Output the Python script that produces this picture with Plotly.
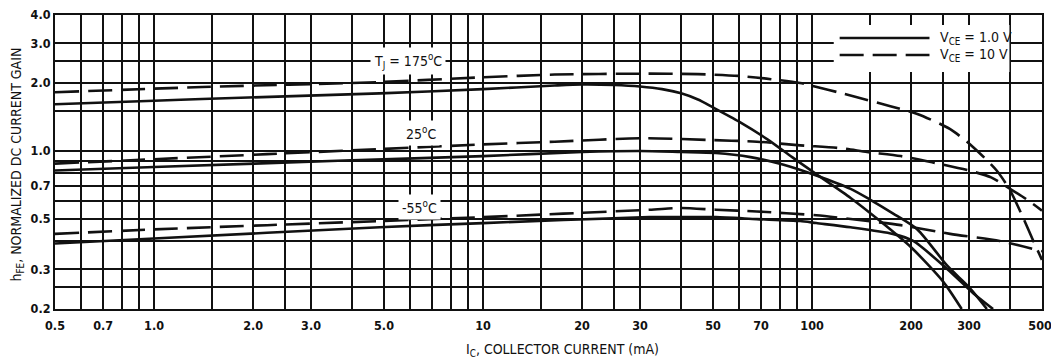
import numpy as np
import plotly.graph_objects as go

# Collector current (mA) and normalized DC current gain for each curve
ic_175_1v = [0.5, 1.0, 1.4, 4.85, 10, 16.5, 20, 25, 30, 35, 40, 45, 50, 60, 73, 87, 103, 131, 161, 200, 250, 285]
hfe_175_1v = [1.61, 1.67, 1.70, 1.80, 1.88, 1.95, 1.97, 1.96, 1.93, 1.88, 1.80, 1.69, 1.56, 1.35, 1.13, 0.94, 0.79, 0.62, 0.49, 0.375, 0.265, 0.20]

ic_175_10v = [0.5, 1.4, 4.85, 10, 16.5, 31, 45, 60, 75, 92, 137, 173, 209, 263, 309, 364, 400, 440, 467, 500]
hfe_175_10v = [1.82, 1.92, 2.02, 2.12, 2.18, 2.20, 2.19, 2.15, 2.08, 2.00, 1.73, 1.58, 1.46, 1.25, 1.04, 0.82, 0.67, 0.50, 0.41, 0.33]

ic_25_1v = [0.5, 1.0, 4.0, 10, 20, 30, 40, 51, 65, 82, 103, 131, 150, 176, 209, 258, 300, 340]
hfe_25_1v = [0.82, 0.85, 0.91, 0.95, 0.99, 1.00, 0.99, 0.98, 0.94, 0.87, 0.78, 0.68, 0.61, 0.53, 0.45, 0.31, 0.25, 0.20]

ic_25_10v = [0.5, 1.0, 4.85, 10, 16.5, 31, 48, 68, 92, 122, 147, 186, 233, 300, 350, 400, 450, 500]
hfe_25_10v = [0.88, 0.92, 1.02, 1.07, 1.10, 1.14, 1.12, 1.10, 1.06, 1.03, 0.99, 0.95, 0.89, 0.82, 0.765, 0.68, 0.61, 0.545]

ic_m55_1v = [0.5, 1.0, 4.85, 10, 32, 40, 51, 68, 92, 103, 131, 176, 203, 258, 309, 355]
hfe_m55_1v = [0.39, 0.41, 0.46, 0.48, 0.51, 0.51, 0.51, 0.50, 0.49, 0.48, 0.46, 0.43, 0.40, 0.30, 0.235, 0.20]

ic_m55_10v = [0.5, 1.0, 4.85, 10, 32, 40, 51, 68, 103, 131, 186, 263, 372, 500]
hfe_m55_10v = [0.43, 0.45, 0.49, 0.51, 0.55, 0.56, 0.55, 0.54, 0.52, 0.50, 0.47, 0.43, 0.40, 0.36]

# Axis ticks (labelled) and extra grid positions (unlabelled)
x_tick_vals = [0.5, 0.7, 1.0, 2.0, 3.0, 5.0, 10, 20, 30, 50, 70, 100, 200, 300, 500]
x_tick_text = ["0.5", "0.7", "1.0", "2.0", "3.0", "5.0", "10", "20", "30", "50", "70", "100", "200", "300", "500\u00a0"]
x_grid_vals = [0.6, 0.8, 0.9, 1.5, 2.5, 4, 6, 7, 8, 9, 15, 25, 40, 60, 80, 90, 150, 250, 400]

y_tick_vals = [0.2, 0.3, 0.5, 0.7, 1.0, 2.0, 3.0, 4.0]
y_tick_text = ["0.2", "0.3", "0.5", "0.7", "1.0", "2.0", "3.0", "4.0"]
y_grid_vals = [0.25, 0.4, 0.6, 0.8, 0.9, 1.5, 2.5]

FONT = "DejaVu Sans Condensed, Liberation Sans, Arial, sans-serif"
INK = "#111111"
DASH = "24px,9px"
EPS = 1e-6


def merged(ticks, labels, extra):
    vals = list(ticks) + list(extra)
    text = list(labels) + [""] * len(extra)
    order = np.argsort(vals)
    return [vals[i] for i in order], [text[i] for i in order]


xv, xt = merged(x_tick_vals, x_tick_text, x_grid_vals)
yv, yt = merged(y_tick_vals, y_tick_text, y_grid_vals)

fig = go.Figure()

curves = [
    (ic_175_10v, hfe_175_10v, DASH),
    (ic_175_1v, hfe_175_1v, "solid"),
    (ic_25_10v, hfe_25_10v, DASH),
    (ic_25_1v, hfe_25_1v, "solid"),
    (ic_m55_10v, hfe_m55_10v, DASH),
    (ic_m55_1v, hfe_m55_1v, "solid"),
]
for xs, ys, dash in curves:
    fig.add_trace(go.Scatter(
        x=xs, y=ys, mode="lines",
        line=dict(color=INK, width=2.6, dash=dash, shape="spline", smoothing=0.7),
        showlegend=False, hoverinfo="skip",
    ))

fig.update_xaxes(
    type="log", range=[np.log10(0.5) - EPS, np.log10(500) + EPS],
    tickmode="array", tickvals=xv, ticktext=xt,
    showgrid=True, gridcolor=INK, gridwidth=1.6,
    showline=True, linecolor=INK, linewidth=2, mirror=True,
    ticks="", zeroline=False, automargin=False, ticklabelstandoff=4,
    ticklabeloverflow="allow",
    tickfont=dict(family=FONT, size=12.5, color=INK, weight="bold"),
)
fig.update_yaxes(
    type="log", range=[np.log10(0.2) - EPS, np.log10(4.0) + EPS],
    tickmode="array", tickvals=yv, ticktext=yt,
    showgrid=True, gridcolor=INK, gridwidth=1.6,
    showline=True, linecolor=INK, linewidth=2, mirror=True,
    ticks="", zeroline=False, automargin=False,
    ticklabeloverflow="allow",
    tickfont=dict(family=FONT, size=12.5, color=INK, weight="bold"),
)

# Axis titles
fig.add_annotation(x=0.514, y=-0.14, xref="paper", yref="paper",
                   xanchor="center", yanchor="middle",
                   text="I<sub>C</sub>, COLLECTOR CURRENT (mA)", showarrow=False,
                   font=dict(family=FONT, size=14, color=INK))
fig.add_annotation(x=-0.039, y=0.49, xref="paper", yref="paper", textangle=-90,
                   xanchor="center", yanchor="middle",
                   text="h<sub>FE</sub>, NORMALIZED DC CURRENT GAIN", showarrow=False,
                   font=dict(family=FONT, size=14, color=INK))

# Temperature labels on white patches
labels = [
    ("T<sub>J</sub> = 175<sup>o</sup>C", 5.9, 2.5),
    ("25<sup>o</sup>C", 6.5, 1.2),
    ("-55<sup>o</sup>C", 6.4, 0.566),
]
for text, xval, yval in labels:
    fig.add_annotation(
        x=np.log10(xval), y=np.log10(yval), xref="x", yref="y",
        text=text, showarrow=False, bgcolor="white", borderpad=3,
        font=dict(family=FONT, size=14, color=INK),
    )

# Key for the two collector-emitter voltages
fig.add_shape(type="rect", xref="paper", yref="paper",
              x0=0.789, x1=0.967, y0=0.806, y1=0.966,
              fillcolor="white", line=dict(width=0), layer="above")
fig.add_shape(type="line", xref="paper", yref="paper",
              x0=0.795, x1=0.886, y0=0.922, y1=0.922,
              line=dict(color=INK, width=2.6), layer="above")
fig.add_shape(type="line", xref="paper", yref="paper",
              x0=0.795, x1=0.886, y0=0.864, y1=0.864,
              line=dict(color=INK, width=2.6, dash=DASH), layer="above")
fig.add_annotation(x=0.895, y=0.922, xref="paper", yref="paper",
                   xanchor="left", yanchor="middle",
                   text="V<sub>CE</sub> = 1.0 V", showarrow=False,
                   font=dict(family=FONT, size=14, color=INK))
fig.add_annotation(x=0.895, y=0.864, xref="paper", yref="paper",
                   xanchor="left", yanchor="middle",
                   text="V<sub>CE</sub> = 10 V", showarrow=False,
                   font=dict(family=FONT, size=14, color=INK))

fig.update_layout(
    width=1051, height=359, autosize=False,
    margin=dict(l=55, r=9, t=15, b=50),
    paper_bgcolor="white", plot_bgcolor="white",
    font=dict(family=FONT, color=INK),
)

fig.write_html("out.html")
